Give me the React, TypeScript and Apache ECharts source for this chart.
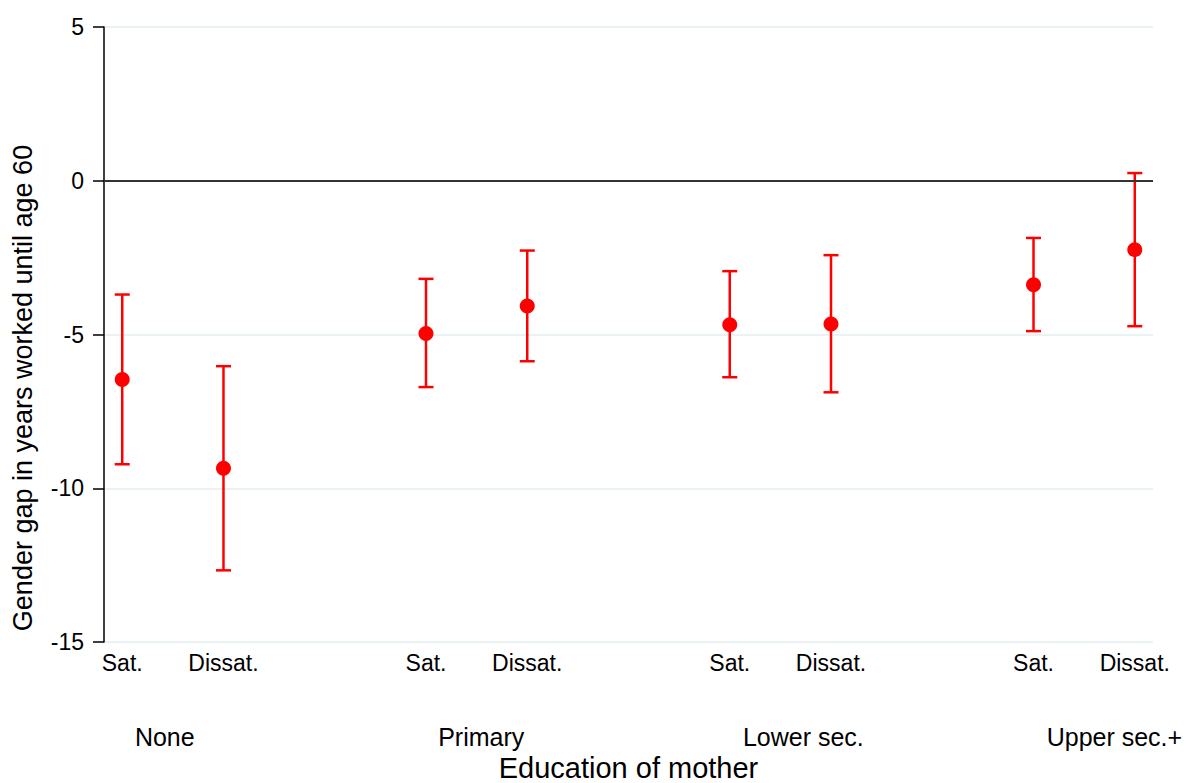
import React, { useEffect, useRef } from "react";
import * as echarts from "echarts";

const groups = ["None", "Primary", "Lower sec.", "Upper sec.+"];
const groupLabelPos = [0.125, 3.12, 6.13, 9.13];
const subLabels = ["Sat.", "Dissat.", "Sat.", "Dissat.", "Sat.", "Dissat.", "Sat.", "Dissat."];
const xPos = [0, 1, 3, 4, 6, 7, 9, 10];
const estimates = [-6.46, -9.35, -4.97, -4.07, -4.68, -4.66, -3.38, -2.24];
const upper = [-3.7, -6.03, -3.19, -2.27, -2.94, -2.42, -1.86, 0.25];
const lower = [-9.22, -12.67, -6.71, -5.87, -6.39, -6.88, -4.89, -4.73];
const yTicks = { min: -15, max: 5, interval: 5 };

const FONT = "'Liberation Sans', Arial, sans-serif";

export default function App() {
  const ref = useRef<HTMLDivElement>(null);
  useEffect(() => {
    document.body.style.margin = "0";
    const chart = echarts.init(ref.current!, null, { renderer: "svg" });
    const option: any = {
      animation: false,
      backgroundColor: "#ffffff",
      textStyle: { fontFamily: FONT },
      grid: {
        left: 104,
        top: 27,
        width: 1049,
        height: 615,
        containLabel: false,
        outerBoundsMode: "none",
      },
      xAxis: [
        {
          type: "value",
          min: -0.18,
          max: 10.18,
          axisLine: { show: false, onZero: false },
          axisTick: { show: false },
          splitLine: { show: false },
          axisLabel: {
            customValues: xPos,
            fontSize: 23,
            color: "#000",
            fontFamily: FONT,
            margin: 9,
            formatter: (v: number) => {
              const i = xPos.findIndex((p) => Math.abs(p - v) < 1e-6);
              return i >= 0 ? subLabels[i] : "";
            },
          },
        },
        {
          type: "value",
          position: "bottom",
          offset: 73,
          min: -0.18,
          max: 10.18,
          axisLine: { show: false, onZero: false },
          axisTick: { show: false },
          splitLine: { show: false },
          name: "Education of mother",
          nameLocation: "middle",
          nameGap: 37,
          nameTextStyle: { fontSize: 29, color: "#000", fontFamily: FONT },
          axisLabel: {
            customValues: groupLabelPos,
            fontSize: 25,
            color: "#000",
            fontFamily: FONT,
            align: "left",
            margin: 9,
            formatter: (v: number) => {
              const i = groupLabelPos.findIndex((p) => Math.abs(p - v) < 1e-6);
              return i >= 0 ? groups[i] : "";
            },
          },
        },
      ],
      yAxis: {
        type: "value",
        min: yTicks.min,
        max: yTicks.max,
        interval: yTicks.interval,
        axisLine: { show: true, onZero: false, lineStyle: { color: "#000", width: 1.5 } },
        axisTick: { show: true, inside: false, length: 11, lineStyle: { color: "#000", width: 1.5 } },
        axisLabel: { fontSize: 23, color: "#000", fontFamily: FONT, margin: 20 },
        splitLine: { show: true, lineStyle: { color: "#eaf2f4", width: 2 } },
      },
      graphic: [
        {
          type: "text",
          x: 23,
          y: 388,
          rotation: Math.PI / 2,
          style: {
            text: "Gender gap in years worked until age 60",
            fontSize: 27,
            fontFamily: FONT,
            fill: "#000",
            align: "center",
            verticalAlign: "middle",
          },
        },
      ],
      series: [
        {
          type: "custom",
          xAxisIndex: 0,
          data: xPos.map((x, i) => [x, lower[i], upper[i]]),
          encode: { x: 0, y: [1, 2] },
          z: 3,
          renderItem: (params: any, api: any) => {
            const x = api.value(0);
            const lo = api.coord([x, api.value(1)]);
            const hi = api.coord([x, api.value(2)]);
            const hw = 7.5;
            const style = { stroke: "#ff0000", lineWidth: 2.5 };
            return {
              type: "group",
              children: [
                { type: "line", shape: { x1: lo[0], y1: lo[1], x2: hi[0], y2: hi[1] }, style },
                { type: "line", shape: { x1: lo[0] - hw, y1: lo[1], x2: lo[0] + hw, y2: lo[1] }, style },
                { type: "line", shape: { x1: hi[0] - hw, y1: hi[1], x2: hi[0] + hw, y2: hi[1] }, style },
              ],
            };
          },
        },
        {
          type: "scatter",
          xAxisIndex: 0,
          data: xPos.map((x, i) => [x, estimates[i]]),
          symbol: "circle",
          symbolSize: 15,
          itemStyle: { color: "#ff0000", opacity: 1 },
          z: 4,
          markLine: {
            silent: true,
            symbol: ["none", "none"],
            label: { show: false },
            lineStyle: { color: "#333", width: 2, type: "solid" },
            data: [{ yAxis: 0 }],
          },
        },
      ],
    };
    chart.setOption(option);
    return () => chart.dispose();
  }, []);
  return <div ref={ref} style={{ width: 1187, height: 783, overflow: "hidden" }} />;
}
